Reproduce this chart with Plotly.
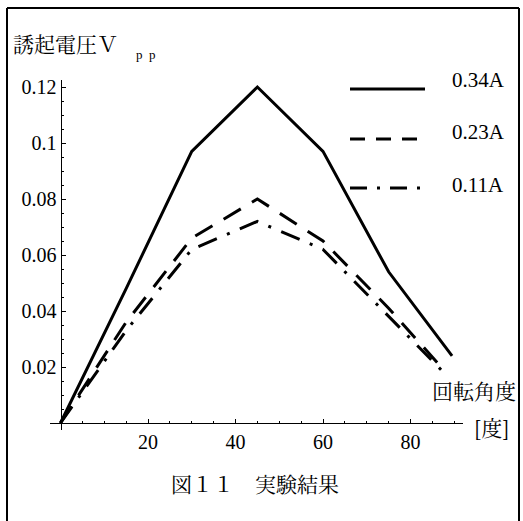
import plotly.graph_objects as go

# ---- data ----
angle_034 = [0, 15, 30, 45, 60, 75, 89.5]
volt_034 = [0, 0.048, 0.097, 0.120, 0.097, 0.054, 0.024]

angle_023 = [0, 15, 30, 45, 60, 75, 87]
volt_023 = [0, 0.036, 0.066, 0.080, 0.065, 0.041, 0.020]

angle_011 = [0, 15, 30, 45, 60, 75, 87]
volt_011 = [0, 0.033, 0.062, 0.072, 0.062, 0.038, 0.019]

series_names = ["0.34A", "0.23A", "0.11A"]
x_ticks = [20, 40, 60, 80]
x_tick_labels = ["20", "40", "60", "80"]
y_ticks = [0.02, 0.04, 0.06, 0.08, 0.1, 0.12]
y_tick_labels = ["0.02", "0.04", "0.06", "0.08", "0.1", "0.12"]

y_title = "誘起電圧Ｖ"
y_title_sub = "p  p"
x_title_1 = "回転角度"
x_title_2 = "[度]"
caption = "図１１　実験結果"

# ---- style ----
SERIF = "Liberation Serif, Times New Roman, serif"
JP = "Noto Serif CJK JP, Noto Sans CJK JP, sans-serif"
dash_plot = ["solid", "20px,13px", "20px,11px,3px,11px"]
dash_legend = ["solid", "15px,11px", "17px,10px,3px,10px"]

W, H = 523, 521
ml, mr, mt, mb = 50, 60, 80, 91
xr = [-2.4, 92.0]
yr = [-0.0025, 0.1225]
pw, ph = W - ml - mr, H - mt - mb


def px(xp):
    return (xp - ml) / pw


def py(yp):
    return (H - mb - yp) / ph


fig = go.Figure()
for xs, ys, nm, d in zip([angle_034, angle_023, angle_011],
                         [volt_034, volt_023, volt_011],
                         series_names, dash_plot):
    fig.add_trace(go.Scatter(x=xs, y=ys, mode="lines", name=nm,
                             line=dict(color="black", width=3, dash=d),
                             showlegend=False))

ypos_xaxis = (0 - yr[0]) / (yr[1] - yr[0])
xpos_yaxis = (0 - xr[0]) / (xr[1] - xr[0])

fig.update_layout(
    width=W, height=H,
    margin=dict(l=ml, r=mr, t=mt, b=mb),
    paper_bgcolor="white", plot_bgcolor="white",
    showlegend=False,
    xaxis=dict(range=xr, anchor="free", position=ypos_xaxis,
               showgrid=False, zeroline=False, showline=True,
               linecolor="black", linewidth=1.2,
               tickmode="array", tickvals=x_ticks, ticktext=x_tick_labels,
               ticks="inside", ticklen=4, tickcolor="black",
               tickfont=dict(family=SERIF, size=20, color="black"),
               ticklabelstandoff=1,
               minor=dict(tickmode="linear", tick0=0, dtick=5,
                          ticks="inside", ticklen=2, tickcolor="black")),
    yaxis=dict(range=yr, anchor="free", position=xpos_yaxis,
               showgrid=False, zeroline=False, showline=True,
               linecolor="black", linewidth=1.2,
               tickmode="array", tickvals=y_ticks, ticktext=y_tick_labels,
               ticks="inside", ticklen=4, tickcolor="black",
               tickfont=dict(family=SERIF, size=20, color="black"),
               minor=dict(tickmode="linear", tick0=0, dtick=0.005,
                          ticks="inside", ticklen=2, tickcolor="black")),
)

# frame around the whole figure (four edges)
fl, fr, ft, fb = 7, 519, 8, 530
for (a, b, c, d) in [(fl, ft, fr, ft), (fl, ft, fl, fb),
                     (fr, ft, fr, fb), (fl, fb, fr, fb)]:
    fig.add_shape(type="line", xref="paper", yref="paper",
                  x0=px(a), y0=py(b), x1=px(c), y1=py(d),
                  line=dict(color="black", width=2))

# legend (drawn by hand)
leg_y = [89, 139, 188]
lab_y = [80, 132, 185]
for nm, d, ly, ty in zip(series_names, dash_legend, leg_y, lab_y):
    fig.add_shape(type="line", xref="paper", yref="paper",
                  x0=px(350), x1=px(425), y0=py(ly), y1=py(ly),
                  line=dict(color="black", width=3, dash=d))
    fig.add_annotation(xref="paper", yref="paper", x=px(450), y=py(ty),
                       xanchor="left", yanchor="middle", showarrow=False,
                       text=nm, font=dict(family=SERIF, size=21, color="black"))

# axis titles and caption
fig.add_annotation(xref="paper", yref="paper", x=px(11), y=py(43),
                   xanchor="left", yanchor="middle", showarrow=False,
                   text=y_title, font=dict(family=JP, size=21, color="black"))
fig.add_annotation(xref="paper", yref="paper", x=px(134), y=py(54),
                   xanchor="left", yanchor="middle", showarrow=False,
                   text=y_title_sub, font=dict(family=SERIF, size=13, color="black"))
fig.add_annotation(xref="paper", yref="paper", x=px(518), y=py(390),
                   xanchor="right", yanchor="middle", showarrow=False,
                   text=x_title_1, font=dict(family=JP, size=21, color="black"))
fig.add_annotation(xref="paper", yref="paper", x=px(472), y=py(427),
                   xanchor="left", yanchor="middle", showarrow=False,
                   text=x_title_2, font=dict(family=JP, size=21, color="black"))
fig.add_annotation(xref="paper", yref="paper", x=px(169), y=py(483),
                   xanchor="left", yanchor="middle", showarrow=False,
                   text=caption, font=dict(family=JP, size=21, color="black"))

fig.write_html("out.html",
               config={"displayModeBar": False},
               post_script="document.body.style.margin='0';"
                           "document.body.style.overflow='hidden';")
